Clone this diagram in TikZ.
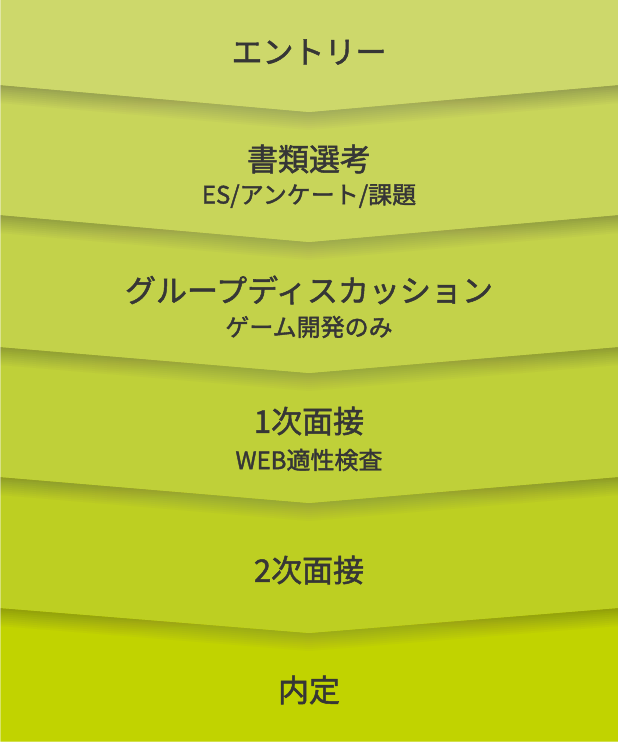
\documentclass[tikz,border=0pt]{standalone}
\usepackage{fontspec}
\setmainfont{Noto Sans CJK JP}[BoldFont=*,BoldFeatures={FakeBold=1.6}]
\definecolor{cA}{HTML}{CDD86B}
\definecolor{cB}{HTML}{C8D55A}
\definecolor{cC}{HTML}{C3D24A}
\definecolor{cD}{HTML}{BFD039}
\definecolor{cE}{HTML}{BDCF22}
\definecolor{cF}{HTML}{C1D300}
\definecolor{shade}{HTML}{7F9A00}
\definecolor{ink}{HTML}{363636}
\tikzset{
  mainlabel/.style={text=ink,font=\fontsize{31}{33}\selectfont\bfseries,inner sep=0pt},
  sublabel/.style={text=ink,font=\fontsize{24}{26}\selectfont\bfseries,inner sep=0pt}
}
\begin{document}
\begin{tikzpicture}[x=1pt,y=-1pt]
\useasboundingbox (0,0) rectangle (618,742);
\fill[cF] (0,0) rectangle (618,742);
% bands from bottom up: side y, apex y, colour of band above
\foreach \s/\a/\c in {608/633/cE,477/503/cD,347/373/cC,215/242/cB,85/112/cA}{
  \foreach \k in {2,4,...,18}{
    \fill[shade,opacity=0.018] (0,\s) -- (309,\a) -- (618,\s) -- (618,\s+\k) -- (309,\a+\k) -- (0,\s+\k) -- cycle;
  }
  \fill[\c] (0,0) -- (618,0) -- (618,\s) -- (309,\a) -- (0,\s) -- cycle;
}
\fill[white,opacity=0.4] (0,0) rectangle (1,742);
\fill[white,opacity=0.3] (0,741) rectangle (618,742);
\node[mainlabel] (entry) at (309,52) {エントリー};
\node[mainlabel] (docs) at (309,159) {書類選考};
\node[sublabel] (docsub) at (309,196) {ES/アンケート/課題};
\node[mainlabel] (gd) at (309,290) {グループディスカッション};
\node[sublabel] (gdsub) at (309,327) {ゲーム開発のみ};
\node[mainlabel] (int1) at (309,421) {1次面接};
\node[sublabel] (int1sub) at (309,460) {WEB適性検査};
\node[mainlabel] (int2) at (309,570) {2次面接};
\node[mainlabel] (offer) at (309,690) {内定};
\end{tikzpicture}
\end{document}
